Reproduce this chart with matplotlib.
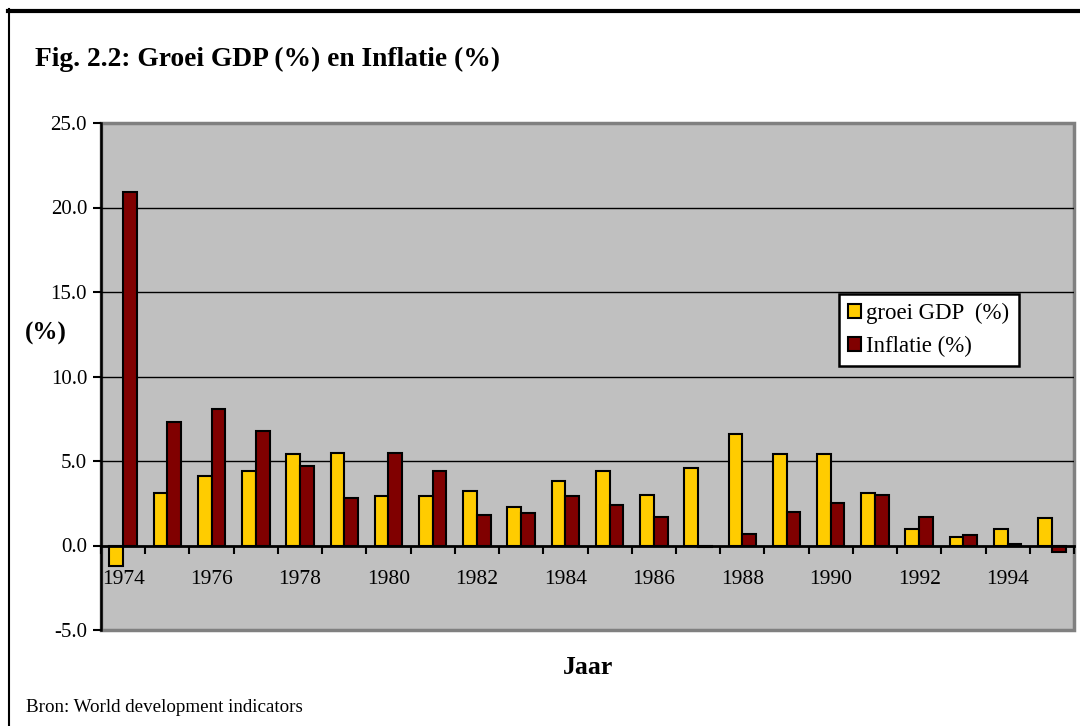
import matplotlib
matplotlib.use("Agg")
import matplotlib.pyplot as plt
from matplotlib.lines import Line2D
import numpy as np

plt.rcParams['font.family'] = ['Liberation Serif', 'DejaVu Serif']

years = [str(y) for y in range(1974, 1996)]
gdp_growth = [-1.2, 3.1, 4.1, 4.4, 5.4, 5.5, 2.9, 2.9, 3.2, 2.3, 3.8,
              4.4, 3.0, 4.6, 6.6, 5.4, 5.4, 3.1, 1.0, 0.5, 1.0, 1.6]
inflation = [20.9, 7.3, 8.1, 6.8, 4.7, 2.8, 5.5, 4.4, 1.8, 1.9, 2.9,
             2.4, 1.7, -0.1, 0.7, 2.0, 2.5, 3.0, 1.7, 0.6, 0.1, -0.4]
y_ticks = [-5.0, 0.0, 5.0, 10.0, 15.0, 20.0, 25.0]
grid_values = [5.0, 10.0, 15.0, 20.0]
labels = ["groei GDP  (%)", "Inflatie (%)"]
title = "Fig. 2.2: Groei GDP (%) en Inflatie (%)"
x_title = "Jaar"
y_title = "(%)"
source = "Bron: World development indicators"

W, H = 1080, 726
fig = plt.figure(figsize=(W / 100, H / 100), dpi=100)
fig.patch.set_facecolor('white')

left, right, top, bottom = 101, 1074, 123, 630
ax = fig.add_axes([left / W, 1 - bottom / H, (right - left) / W, (bottom - top) / H])
ax.patch.set_facecolor('#C0C0C0')
ax.patch.set_edgecolor('#808080')
ax.patch.set_linewidth(2.5)

x = np.arange(len(years))
bw = 0.31
ax.bar(x - bw / 2, gdp_growth, width=bw, color='#FFCC00', edgecolor='black',
       linewidth=1.5, label=labels[0], zorder=3)
ax.bar(x + bw / 2, inflation, width=bw, color='#800000', edgecolor='black',
       linewidth=1.5, label=labels[1], zorder=3)

for v in grid_values:
    ax.axhline(v, color='black', linewidth=1.0, zorder=1)

ax.set_xlim(-0.5, len(years) - 0.5)
ax.set_ylim(y_ticks[0], y_ticks[-1])

for s in ['top', 'right']:
    ax.spines[s].set_visible(False)
ax.spines['left'].set_color('black')
ax.spines['left'].set_linewidth(1.8)
ax.spines['bottom'].set_position(('data', 0))
ax.spines['bottom'].set_color('black')
ax.spines['bottom'].set_linewidth(2.0)
ax.spines['bottom'].set_zorder(4)

ax.set_yticks(y_ticks)
ax.set_yticklabels([f"{v:.1f}" for v in y_ticks], fontsize=15)
ax.tick_params(axis='y', direction='out', length=6, width=1.5, pad=4, color='black')

ax.set_xticks(x[::2])
ax.set_xticklabels(years[::2], fontsize=15.5)
ax.set_xticks(np.arange(-0.5, len(years) + 0.5, 1.0), minor=True)
ax.tick_params(axis='x', which='major', length=0, pad=18)
ax.tick_params(axis='x', which='minor', direction='out', length=6, width=1.5, color='black')

leg = ax.legend(loc='upper left', bbox_to_anchor=(839 / W, 1 - 294 / H),
                bbox_transform=fig.transFigure, fontsize=16.5, frameon=True,
                fancybox=False, handlelength=0.55, handleheight=0.55,
                handletextpad=0.25, borderpad=0.4, labelspacing=0.5,
                borderaxespad=0)
leg.get_frame().set_edgecolor('black')
leg.get_frame().set_linewidth(1.8)
leg.get_frame().set_facecolor('white')
leg.get_frame().set_alpha(1)
leg.set_zorder(10)

fig.text(35 / W, 1 - 59 / H, title, fontsize=19.8, fontweight='bold', va='center', ha='left')
fig.text(46 / W, 1 - 333 / H, y_title, fontsize=18, fontweight='bold', va='center', ha='center')
fig.text(588 / W, 1 - 668 / H, x_title, fontsize=18.5, fontweight='bold', va='center', ha='center')
fig.text(26 / W, 1 - 707 / H, source, fontsize=13.7, va='center', ha='left')

fig.add_artist(Line2D([8 / W, 1.0], [1 - 11 / H, 1 - 11 / H], color='black',
                      linewidth=3.0, transform=fig.transFigure))
fig.add_artist(Line2D([9 / W, 9 / W], [1 - 9 / H, 0.0], color='black',
                      linewidth=1.5, transform=fig.transFigure))

fig.savefig('out.png', dpi=100)
